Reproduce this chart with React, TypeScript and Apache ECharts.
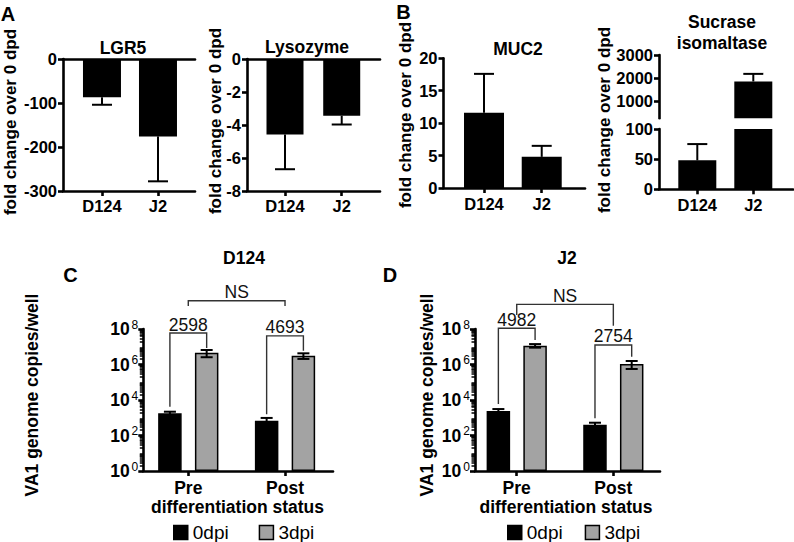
import React, { useEffect, useRef } from 'react';
import * as echarts from 'echarts';

const FONT = '"Liberation Sans", Arial, Helvetica, sans-serif';
const BLACK = '#000000';
const GRAY = '#a3a3a3';
const BRACKET = '#333333';
const AXW = 2.6;

// ---------- Panel A / B data ----------
const strainCategories = ['D124', 'J2'];
const lgr5Values = [-87, -176];
const lgr5Errors = [17, 102];
const lysozymeValues = [-4.57, -3.44];
const lysozymeErrors = [2.11, 0.53];
const muc2Values = [11.6, 4.8];
const muc2Errors = [6.0, 1.7];
const sucraseValues = [48, 1850];
const sucraseErrors = [27, 330];
const sucraseUpperTicks = [1000, 2000, 3000];

// ---------- Panel C / D data ----------
const statusCategories = ['Pre', 'Post'];
const seriesNames = ['0dpi', '3dpi'];
const d124Dpi0 = [1780, 676];
const d124Dpi0Err = [410, 300];
const d124Dpi3 = [4.57e6, 3.16e6];
const d124Dpi3Err = [2.0e6, 1.1e6];
const j2Dpi0 = [2400, 407];
const j2Dpi0Err = [690, 118];
const j2Dpi3 = [1.15e7, 1.07e6];
const j2Dpi3Err = [2.6e6, 5.1e5];

// fold-change annotations (bracket leg ends and top, data units)
const d124FoldLabels = ['2598', '4693'];
const d124FoldLeft = [4200, 1600];
const d124FoldRight = [8.5e6, 6.0e6];
const d124FoldTop = [5.9e7, 4.1e7];
const d124NsBracket = [2.0e9, 2.0e9, 3.9e9];
const j2FoldLabels = ['4982', '2754'];
const j2FoldLeft = [5900, 930];
const j2FoldRight = [2.4e7, 2.75e6];
const j2FoldTop = [1.1e8, 1.26e7];
const j2NsBracket = [6.2e8, 1.5e8, 2.45e9];
const nsLabel = 'NS';

// layout constants
const OFF = 0.19; // half distance between paired bars (category units)
const minorLogTicks: number[] = [];
for (let d = 0; d < 8; d++) for (let k = 2; k <= 9; k++) minorLogTicks.push(d + Math.log10(k));

const axisLineStyle = { color: BLACK, width: AXW };

const xCat = (gridIndex: number, min: number, max: number, cats: string[], fontSize: number, margin: number) => ({
  type: 'value', gridIndex, min, max, position: 'bottom',
  axisLine: { show: true, onZero: false, lineStyle: axisLineStyle },
  axisTick: { show: true, customValues: [0, 1], length: 5, lineStyle: axisLineStyle },
  axisLabel: {
    show: true, customValues: [0, 1], margin,
    formatter: (v: number) => cats[Math.round(v)] ?? '',
    fontFamily: FONT, fontSize, fontWeight: 'bold', color: BLACK,
  },
  splitLine: { show: false },
});
const xTopLine = (gridIndex: number, min: number, max: number) => ({
  type: 'value', gridIndex, min, max, position: 'top',
  axisLine: { show: true, onZero: false, lineStyle: axisLineStyle },
  axisTick: { show: false }, axisLabel: { show: false }, splitLine: { show: false },
});
const xHidden = (gridIndex: number, min: number, max: number) => ({ type: 'value', gridIndex, min, max, show: false });

const yVal = (gridIndex: number, min: number, max: number, interval?: number, custom?: number[]) => ({
  type: 'value', gridIndex, min, max, interval, position: 'left',
  axisLine: { show: true, onZero: false, lineStyle: axisLineStyle },
  axisTick: { show: true, length: 5, lineStyle: axisLineStyle, ...(custom ? { customValues: custom } : {}) },
  axisLabel: {
    margin: 6, fontFamily: FONT, fontSize: 16.5, fontWeight: 'bold', color: BLACK,
    formatter: (v: number) => String(Math.round(v * 100) / 100),
    ...(custom ? { customValues: custom } : {}),
  },
  splitLine: { show: false },
});
const yLog = (gridIndex: number) => ({
  type: 'log', logBase: 10, gridIndex, min: 1, max: 1e8, interval: 2, position: 'left',
  axisLine: { show: true, onZero: false, lineStyle: axisLineStyle },
  axisTick: { show: true, length: 5, lineStyle: axisLineStyle },
  axisLabel: {
    margin: 5, fontFamily: FONT, fontSize: 17, fontWeight: 'bold', color: BLACK,
    formatter: (v: number) => `{b|10}{s|${Math.round(Math.log10(v))}}`,
    rich: {
      b: { fontFamily: FONT, fontSize: 17.5, fontWeight: 'bold', color: BLACK, lineHeight: 21 },
      s: { fontFamily: FONT, fontSize: 12, fontWeight: 'normal', color: BLACK, lineHeight: 11, verticalAlign: 'top', padding: [0, 0, 0, 2] },
    },
  },
  splitLine: { show: false },
});
const yMinor = (gridIndex: number) => ({
  type: 'value', gridIndex, min: 0, max: 8, position: 'left',
  axisLine: { show: false, onZero: false },
  axisTick: { show: true, customValues: minorLogTicks, length: 3.5, lineStyle: { color: BLACK, width: 1.5 } },
  axisLabel: { show: false }, splitLine: { show: false },
});

const bar = (name: string, xi: number, yi: number, data: number[][], width: number, color: string, border: number) => ({
  type: 'bar', name, xAxisIndex: xi, yAxisIndex: yi, data, barWidth: width, barGap: '-100%',
  itemStyle: { color, borderColor: BLACK, borderWidth: border }, silent: true, clip: true,
});

const errorSeries = (xi: number, yi: number, data: number[][], capW: number, oneSided: boolean, lw: number) => ({
  type: 'custom', xAxisIndex: xi, yAxisIndex: yi, data, z: 5, silent: true, clip: false,
  encode: { x: 0, y: 1 },
  renderItem: (_params: any, api: any) => {
    const x = api.value(0), v = api.value(1), e = api.value(2);
    const hi = oneSided ? (v < 0 ? v - e : v + e) : v + e;
    const lo = oneSided ? v : v - e;
    const a = api.coord([x, lo]);
    const b = api.coord([x, hi]);
    const st = { stroke: BLACK, lineWidth: lw, fill: 'none' };
    const children: any[] = [
      { type: 'line', shape: { x1: a[0], y1: a[1], x2: b[0], y2: b[1] }, style: st },
      { type: 'line', shape: { x1: b[0] - capW / 2, y1: b[1], x2: b[0] + capW / 2, y2: b[1] }, style: st },
    ];
    if (!oneSided) children.push({ type: 'line', shape: { x1: a[0] - capW / 2, y1: a[1], x2: a[0] + capW / 2, y2: a[1] }, style: st });
    return { type: 'group', children };
  },
});

const bracketSeries = (xi: number, yi: number, data: number[][], labels: string[]) => ({
  type: 'custom', xAxisIndex: xi, yAxisIndex: yi, data, z: 6, silent: true, clip: false,
  encode: { x: [0, 1], y: [2, 3, 4] },
  renderItem: (params: any, api: any) => {
    const x1 = api.value(0), x2 = api.value(1), yl = api.value(2), yr = api.value(3), yt = api.value(4);
    const pL = api.coord([x1, yl]);
    const pLT = api.coord([x1, yt]);
    const pRT = api.coord([x2, yt]);
    const pR = api.coord([x2, yr]);
    return {
      type: 'group',
      children: [
        { type: 'polyline', shape: { points: [pL, pLT, pRT, pR] }, style: { stroke: BRACKET, lineWidth: 1.4, fill: 'none' } },
        {
          type: 'text', x: (pLT[0] + pRT[0]) / 2, y: pLT[1] - 8.5,
          style: { text: labels[params.dataIndex], font: `17.5px ${FONT}`, fill: '#111', align: 'center', verticalAlign: 'middle' },
        },
      ],
    };
  },
});

const txt = (x: number, y: number, text: string, size: number, weight = 'bold', rotation = 0) => ({
  type: 'text', x, y, rotation, silent: true,
  style: { text, fill: BLACK, font: `${weight} ${size}px ${FONT}`, align: 'center', verticalAlign: 'middle' },
});

const pair = (vals: number[], off: number) => vals.map((v, i) => [i + off, v]);
const pairErr = (vals: number[], errs: number[], off: number) => vals.map((v, i) => [i + off, v, errs[i]]);
const foldData = (l: number[], r: number[], t: number[]) => l.map((_, i) => [i - OFF, i + OFF, l[i], r[i], t[i]]);

export default function App() {
  const ref = useRef<HTMLDivElement>(null);
  useEffect(() => {
    if (!ref.current) return;
    const chart = echarts.init(ref.current, null, { renderer: 'svg' });
    const gridBase = { containLabel: false, outerBoundsMode: 'none' };
    const option: any = {
      animation: false,
      backgroundColor: '#ffffff',
      grid: [
        { ...gridBase, left: 63, top: 59, width: 132, height: 132 },
        { ...gridBase, left: 247, top: 59, width: 133, height: 132 },
        { ...gridBase, left: 443.5, top: 58.3, width: 141.5, height: 129.7 },
        { ...gridBase, left: 659, top: 55, width: 134, height: 63.3 },
        { ...gridBase, left: 659, top: 129, width: 134, height: 60.3 },
        { ...gridBase, left: 143.3, top: 329, width: 189.7, height: 142 },
        { ...gridBase, left: 475, top: 329, width: 185, height: 142 },
        { ...gridBase, left: 143.3, top: 329, width: 189.7, height: 142 },
        { ...gridBase, left: 475, top: 329, width: 185, height: 142 },
      ],
      xAxis: [
        xCat(0, -0.696, 1.661, strainCategories, 16.5, 6),
        xTopLine(0, -0.696, 1.661),
        xCat(1, -0.670, 1.675, strainCategories, 16.5, 6),
        xTopLine(1, -0.670, 1.675),
        xCat(2, -0.702, 1.75, strainCategories, 16.5, 7),
        xHidden(3, -0.684, 1.709),
        xCat(4, -0.684, 1.709, strainCategories, 16.5, 7),
        xCat(5, -0.465, 1.496, statusCategories, 17.5, 8),
        xCat(6, -0.432, 1.483, statusCategories, 17.5, 8),
        xHidden(7, 0, 1),
        xHidden(8, 0, 1),
      ],
      yAxis: [
        yVal(0, -300, 0, 100),
        yVal(1, -8, 0, 2),
        yVal(2, 0, 20, 5),
        yVal(3, 250, 3000, undefined, sucraseUpperTicks),
        yVal(4, 0, 100, 50),
        yLog(5),
        yLog(6),
        yMinor(7),
        yMinor(8),
      ],
      legend: [
        {
          left: 173, top: 523, padding: 0, itemWidth: 14, itemHeight: 14, itemGap: 30, icon: 'rect',
          data: seriesNames, selectedMode: false,
          textStyle: { fontFamily: FONT, fontSize: 19, color: BLACK },
          itemStyle: { borderColor: BLACK, borderWidth: 1.5 },
        },
        {
          left: 507, top: 523, padding: 0, itemWidth: 14, itemHeight: 14, itemGap: 22, icon: 'rect',
          data: seriesNames, selectedMode: false,
          textStyle: { fontFamily: FONT, fontSize: 19, color: BLACK },
          itemStyle: { borderColor: BLACK, borderWidth: 1.5 },
        },
      ],
      series: [
        // A: LGR5
        bar('LGR5', 0, 0, pair(lgr5Values, 0), 38, BLACK, 0),
        errorSeries(0, 0, pairErr(lgr5Values, lgr5Errors, 0), 20, true, 2),
        // A: Lysozyme
        bar('Lysozyme', 2, 1, pair(lysozymeValues, 0), 37, BLACK, 0),
        errorSeries(2, 1, pairErr(lysozymeValues, lysozymeErrors, 0), 20, true, 2),
        // B: MUC2
        bar('MUC2', 4, 2, pair(muc2Values, 0), 40, BLACK, 0),
        errorSeries(4, 2, pairErr(muc2Values, muc2Errors, 0), 20, true, 2),
        // B: Sucrase isomaltase (broken axis)
        bar('SI upper', 5, 3, pair(sucraseValues, 0).filter((d) => d[1] > 250), 38, BLACK, 0),
        errorSeries(5, 3, pairErr(sucraseValues, sucraseErrors, 0).filter((d) => d[1] > 250), 20, true, 2),
        bar('SI lower', 6, 4, pair(sucraseValues, 0), 38, BLACK, 0),
        errorSeries(6, 4, pairErr(sucraseValues, sucraseErrors, 0).filter((d) => d[1] <= 100), 20, true, 2),
        // C: D124
        bar(seriesNames[0], 7, 5, pair(d124Dpi0, -OFF), 23.5, BLACK, 1.5),
        bar(seriesNames[1], 7, 5, pair(d124Dpi3, OFF), 23.5, GRAY, 1.5),
        errorSeries(7, 5, pairErr(d124Dpi0, d124Dpi0Err, -OFF), 12, false, 2),
        errorSeries(7, 5, pairErr(d124Dpi3, d124Dpi3Err, OFF), 12, false, 2),
        bracketSeries(7, 5, foldData(d124FoldLeft, d124FoldRight, d124FoldTop), d124FoldLabels),
        bracketSeries(7, 5, [[0, 1, ...d124NsBracket]], [nsLabel]),
        // D: J2
        bar(seriesNames[0], 8, 6, pair(j2Dpi0, -OFF), 23.5, BLACK, 1.5),
        bar(seriesNames[1], 8, 6, pair(j2Dpi3, OFF), 23.5, GRAY, 1.5),
        errorSeries(8, 6, pairErr(j2Dpi0, j2Dpi0Err, -OFF), 12, false, 2),
        errorSeries(8, 6, pairErr(j2Dpi3, j2Dpi3Err, OFF), 12, false, 2),
        bracketSeries(8, 6, foldData(j2FoldLeft, j2FoldRight, j2FoldTop), j2FoldLabels),
        bracketSeries(8, 6, [[0, 1, ...j2NsBracket]], [nsLabel]),
      ],
      graphic: {
        elements: [
          txt(8, 14, 'A', 20),
          txt(403.5, 12, 'B', 20),
          txt(70.5, 275, 'C', 20),
          txt(390, 275, 'D', 20),
          txt(123, 48, 'LGR5', 17.5),
          txt(307, 47, 'Lysozyme', 17.5),
          txt(518, 49, 'MUC2', 17.5),
          txt(722, 22, 'Sucrase', 17.5),
          txt(722, 43, 'isomaltase', 17.5),
          txt(244, 258, 'D124', 17.5),
          txt(567, 258, 'J2', 17.5),
          txt(10.5, 122, 'fold change over 0 dpd', 17, 'bold', Math.PI / 2),
          txt(215, 121, 'fold change over 0 dpd', 17, 'bold', Math.PI / 2),
          txt(405, 115, 'fold change over 0 dpd', 17, 'bold', Math.PI / 2),
          txt(604.5, 120, 'fold change over 0 dpd', 17, 'bold', Math.PI / 2),
          txt(32, 395, 'VA1 genome copies/well', 17.5, 'bold', Math.PI / 2),
          txt(427, 395, 'VA1 genome copies/well', 17.5, 'bold', Math.PI / 2),
          txt(237.5, 507, 'differentiation status', 17.5),
          txt(566, 507, 'differentiation status', 17.5),
        ],
      },
    };
    chart.setOption(option);
    return () => chart.dispose();
  }, []);
  return (
    <div
      ref={ref}
      style={{ position: 'fixed', left: 0, top: 0, width: 794, height: 542, background: '#fff' }}
    />
  );
}
